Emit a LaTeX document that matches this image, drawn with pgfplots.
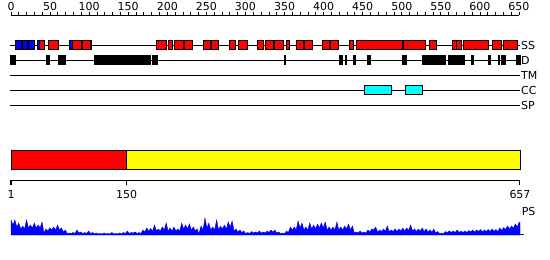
\documentclass[border=0pt]{standalone}
\usepackage{pgfplots}
\pgfplotsset{compat=1.18}
\usepackage{fontspec}
\setmainfont{DejaVu Sans}
\definecolor{pRed}{RGB}{255,0,0}
\definecolor{pBlue}{RGB}{0,0,255}
\definecolor{pCyan}{RGB}{0,255,255}
\definecolor{pYellow}{RGB}{255,255,0}
\pgfplotsset{
  every axis/.append style={scale only axis, clip=false},
  ssred/.style={fill=pRed, draw=black, line width=1pt},
  ssblue/.style={fill=pBlue, draw=black, line width=1pt},
  dbox/.style={fill=black, draw=none},
  ccbox/.style={fill=pCyan, draw=black, line width=1pt},
}
\newcommand{\lbl}{\fontsize{11}{13}\selectfont}
\begin{document}
\begin{tikzpicture}
\useasboundingbox (0,0) rectangle (550pt,-260pt);
% ---------------- top ruler (residues 0..650)
\begin{axis}[at={(11pt,-15pt)}, anchor=north west, width=508pt, height=10pt,
  xmin=0, xmax=650, ymin=0, ymax=1,
  axis x line=top, axis y line=none, x axis line style={-, line width=1pt},
  xtick={0,50,...,650}, minor x tick num=4, tick align=outside,
  major tick length=3.5pt, minor tick length=3.5pt,
  every tick/.style={black, line width=0.8pt},
  xticklabel style={font=\lbl, inner sep=1pt},
  /pgf/number format/assume math mode=true,
  /pgf/number format/1000 sep={}]
\addplot[draw=none] coordinates {(0,0)};
\end{axis}
% ---------------- feature tracks
\begin{axis}[at={(0pt,0pt)}, anchor=north west, width=550pt, height=260pt,
  xmin=-14.075, xmax=689.66, ymin=0, ymax=260, y dir=reverse, hide axis]
\pgfplotsinvokeforeach{45,60,75,90,105}{
  \addplot[black, line width=1pt] coordinates {(-1.3,#1) (651.3,#1)};
}
% SS: helix (red) and strand (blue)
\pgfplotsforeachungrouped \a/\b in {36.2/43.5, 47.7/61.4, 78.9/90.0, 92.1/101.1,
  186.8/199.2, 201.3/206.9, 208.9/221.0, 222.6/232.5, 246.9/255.5, 256.3/265.7,
  279.3/287.5, 290.8/302.9, 316.0/323.3, 325.9/336.1, 336.9/348.9, 353.1/356.6,
  365.9/374.5, 376.1/386.0, 399.2/407.3, 409.4/419.3, 432.5/438.5, 441.8/501.2,
  502.8/530.6, 535.2/543.8, 565.2/570.3, 570.3/576.2, 579.6/610.4, 615.8/627.3,
  630.8/647.8}{
  \edef\cmd{\noexpand\addplot[ssred] coordinates {(\a,40.5) (\b,40.5) (\b,49.5) (\a,49.5)} -- cycle;}
  \cmd
}
\pgfplotsforeachungrouped \a/\b in {5.5/12.8, 14.1/21.4, 23.0/30.3, 33.7/36.2,
  74.6/78.9, 101.1/103.3}{
  \edef\cmd{\noexpand\addplot[ssblue] coordinates {(\a,40.5) (\b,40.5) (\b,49.5) (\a,49.5)} -- cycle;}
  \cmd
}
% D: disorder
\pgfplotsforeachungrouped \a/\b in {-1.3/6.0, 44.8/49.5, 60.5/70.0, 106.2/178.7,
  180.4/187.7, 349.3/351.8, 419.3/424.8, 427.0/429.9, 437.2/441.4, 455.1/460.6,
  500.3/506.7, 525.9/556.2, 559.2/580.9, 589.0/592.0, 610.3/613.8, 623.5/625.7,
  626.6/633.0, 645.8/652.5}{
  \edef\cmd{\noexpand\addplot[dbox] coordinates {(\a,55) (\b,55) (\b,65) (\a,65)} -- cycle;}
  \cmd
}
% CC: coiled coil
\pgfplotsforeachungrouped \a/\b in {451.7/487.1, 504.5/526.3}{
  \edef\cmd{\noexpand\addplot[ccbox] coordinates {(\a,85.5) (\b,85.5) (\b,94.5) (\a,94.5)} -- cycle;}
  \cmd
}
\node[anchor=west, inner sep=0pt, font=\lbl] at (axis cs:652.5,45) {SS};
\node[anchor=west, inner sep=0pt, font=\lbl] at (axis cs:652.5,60) {D};
\node[anchor=west, inner sep=0pt, font=\lbl] at (axis cs:652.5,75) {TM};
\node[anchor=west, inner sep=0pt, font=\lbl] at (axis cs:652.5,90) {CC};
\node[anchor=west, inner sep=0pt, font=\lbl] at (axis cs:652.5,105) {SP};
\end{axis}
% ---------------- domain bar (residues 1..657)
\begin{axis}[at={(0pt,0pt)}, anchor=north west, width=550pt, height=260pt,
  xmin=-13.18, xmax=695.67, ymin=0, ymax=260, y dir=reverse, hide axis]
\addplot[fill=pRed, draw=black, line width=1pt] coordinates {(1,150.5) (150,150.5) (150,169.5) (1,169.5)} -- cycle;
\addplot[fill=pYellow, draw=black, line width=1pt] coordinates {(150,150.5) (657,150.5) (657,169.5) (150,169.5)} -- cycle;
\node[anchor=west, inner sep=0pt, font=\lbl] at (axis cs:659,211) {PS};
\end{axis}
% ---------------- bottom ruler
\begin{axis}[at={(11pt,-180pt)}, anchor=south west, width=509pt, height=10pt,
  xmin=1, xmax=657, ymin=0, ymax=1,
  axis x line=bottom, axis y line=none, x axis line style={-, line width=1pt},
  xtick={1,150,657}, tick align=outside, major tick length=4.5pt,
  every tick/.style={black, line width=1pt},
  xticklabel style={font=\lbl, inner sep=1pt, yshift=-4.5pt},
  /pgf/number format/assume math mode=true]
\addplot[draw=none] coordinates {(1,0)};
\end{axis}
% ---------------- profile
\begin{axis}[at={(0pt,-235pt)}, anchor=south west, width=550pt, height=20pt,
  xmin=-13.18, xmax=695.67, ymin=0, ymax=20, hide axis]
\addplot[fill=pBlue, draw=pBlue, line width=0.4pt] table[row sep=\\] {
x y\\
1 15\\ 3.5 10\\ 6 15\\ 8.5 8\\ 11 12\\ 13.5 6\\ 16 9\\ 18.5 6\\ 21 15\\ 23.5 7\\
26 10\\ 28.5 7\\ 31 12\\ 33.5 7\\ 36 10\\ 38.5 7\\ 41 13\\ 43.5 2\\ 46 6\\ 48.5 4\\
51 7\\ 53.5 5\\ 56 8\\ 58.5 5\\ 61 10\\ 63.5 5\\ 66 7\\ 68.5 3\\ 71 5\\ 73.5 1.5\\
76 2\\ 78.5 1.5\\ 81 2.5\\ 83.5 1.5\\ 86 5\\ 88.5 2\\ 91 3\\ 93.5 1.5\\ 96 2.5\\ 98.5 1.5\\
101 4\\ 103.5 1.5\\ 106 2.5\\ 108.5 1.2\\ 111 2\\ 113.5 1\\ 116 1.5\\ 118.5 1\\ 121 2\\ 123.5 1\\
126 1.5\\ 128.5 1\\ 131 2.5\\ 133.5 1\\ 136 1.5\\ 138.5 1\\ 141 2\\ 143.5 1.2\\ 146 2.5\\ 148.5 1.5\\
151 4\\ 153.5 1.5\\ 156 2.5\\ 158.5 2\\ 161 3\\ 163.5 1.5\\ 166 2.5\\ 168.5 1.5\\ 171 5\\ 173.5 3\\
176 7\\ 178.5 4\\ 181 6.5\\ 183.5 4\\ 186 10\\ 188.5 4\\ 191 6\\ 193.5 4\\ 196 8\\ 198.5 5\\
201 12\\ 203.5 4\\ 206 7\\ 208.5 4\\ 211 8\\ 213.5 4\\ 216 6\\ 218.5 4\\ 221 12\\ 223.5 6\\
226 10\\ 228.5 6\\ 231 11\\ 233.5 5\\ 236 8\\ 238.5 4\\ 241 6\\ 243 1\\ 246 9\\ 248.5 5\\
251 17\\ 253.5 7\\ 256 12\\ 258.5 5\\ 261 8\\ 263.5 5\\ 266 15\\ 268.5 5\\ 271 9\\ 273.5 6\\
276 10\\ 278.5 6\\ 281 13\\ 283.5 8\\ 286 14\\ 288.5 4\\ 291 6\\ 293.5 3\\ 296 5\\ 298.5 2.5\\
301 4\\ 303.5 1.5\\ 306 2.5\\ 308.5 1.5\\ 311 3.5\\ 313.5 2\\ 316 3\\ 318.5 2\\ 321 4\\ 323.5 2\\
326 3\\ 328.5 2\\ 331 4\\ 333.5 2.5\\ 336 5\\ 338.5 3\\ 341 5\\ 343.5 2\\ 346 3\\ 348.5 1.2\\
351 2\\ 353.5 1.2\\ 356 4\\ 358.5 2.5\\ 361 8\\ 363.5 5\\ 366 8\\ 368.5 5\\ 371 14\\ 373.5 7\\
376 12\\ 378.5 5\\ 381 8\\ 383.5 5\\ 386 12\\ 388.5 6\\ 391 10\\ 393.5 6\\ 396 11\\ 398.5 7\\
401 12\\ 403.5 7\\ 406 13\\ 408.5 5\\ 411 8\\ 413.5 5\\ 416 8\\ 418.5 5\\ 421 13\\ 423.5 5\\
426 8\\ 428.5 5\\ 431 9\\ 433.5 6\\ 436 11\\ 438.5 5\\ 441 9\\ 443.5 2\\ 446 3\\ 448.5 2\\
451 4\\ 453.5 2\\ 456 3\\ 458.5 2\\ 461 5\\ 463.5 3\\ 466 6\\ 468.5 5\\ 471 8\\ 473.5 3\\
476 5\\ 478.5 3.5\\ 481 6\\ 483.5 4\\ 486 9\\ 488.5 3\\ 491 5\\ 493.5 3.5\\ 496 6\\ 498.5 3.5\\
501 6\\ 503.5 4\\ 506 7\\ 508.5 4\\ 511 7\\ 513.5 4.5\\ 516 10\\ 518.5 4\\ 521 6\\ 523.5 3.5\\
526 6\\ 528.5 4\\ 531 7\\ 533.5 3.5\\ 536 6\\ 538.5 3\\ 541 5\\ 543.5 3\\ 546 6\\ 548.5 2\\
551 3.5\\ 553.5 1.2\\ 556 2\\ 558.5 1.2\\ 561 3.5\\ 563.5 2.5\\ 566 4\\ 568.5 2.5\\ 571 4\\ 573.5 2.5\\
576 5\\ 578.5 2.5\\ 581 4\\ 583.5 2.5\\ 586 4\\ 588.5 2.5\\ 591 4.5\\ 593.5 3\\ 596 5\\ 598.5 3\\
601 5\\ 603.5 3.5\\ 606 5.5\\ 608.5 3\\ 611 5\\ 613.5 3.5\\ 616 5.5\\ 618.5 3.5\\ 621 6\\ 623.5 3.5\\
626 5.5\\ 628.5 3.5\\ 631 7\\ 633.5 4.5\\ 636 7.5\\ 638.5 5.5\\ 641 9\\ 643.5 6\\ 646 9\\ 648.5 7\\
651 11\\ 653.5 8\\ 656 13\\ 657 12\\
} \closedcycle;
\addplot[pBlue, line width=1pt] coordinates {(1,0.5) (662,0.5)};
\end{axis}
\end{tikzpicture}
\end{document}
